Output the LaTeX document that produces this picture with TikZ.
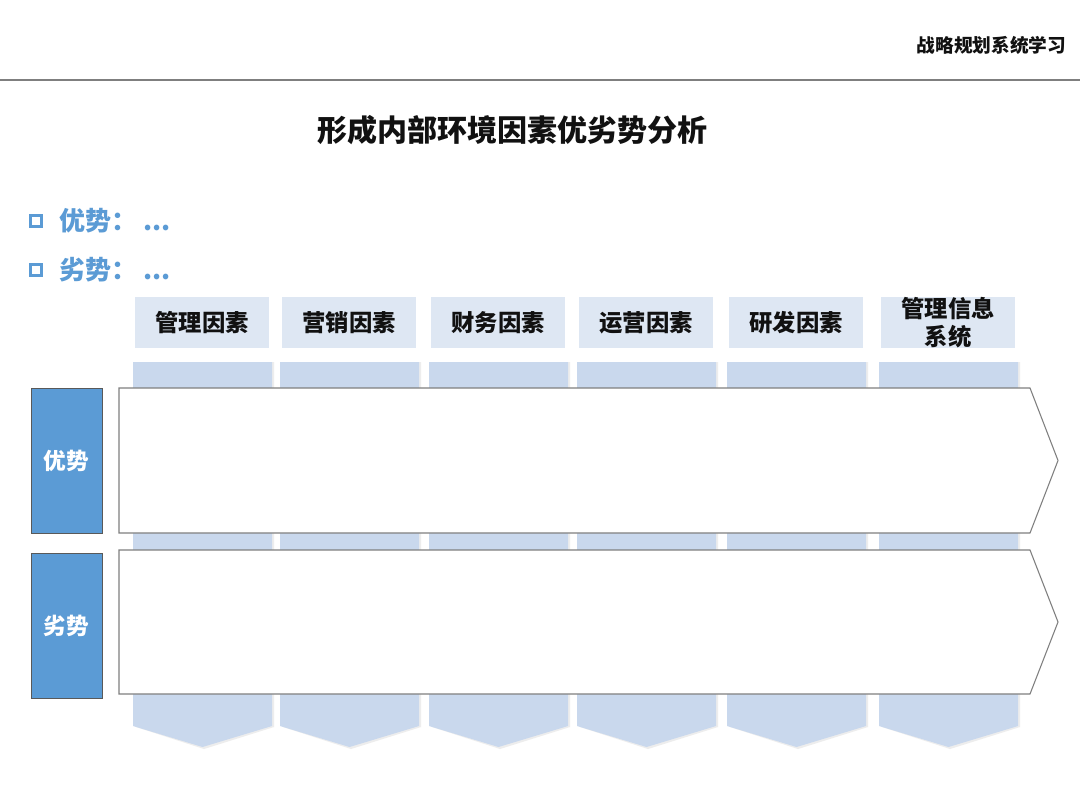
\documentclass[tikz,border=0pt]{standalone}
\usepackage{fontspec}
\setmainfont{Noto Sans CJK SC}
\usepackage{xcolor}
\usetikzlibrary{positioning}
\definecolor{SWBlue}{HTML}{5B9BD5}
\definecolor{SWHead}{HTML}{DEE7F3}
\definecolor{SWCol} {HTML}{C9D8ED}
\definecolor{SWLine}{HTML}{7F7F7F}
\definecolor{SWText}{HTML}{111111}

\begin{document}
\begin{tikzpicture}[x=0.75pt,y=-0.75pt,
    colhd/.style={fill=SWHead,minimum width=100.5pt,minimum height=38.25pt,inner sep=0pt,
      align=center,text=SWText,font=\fontsize{17.5}{21}\selectfont\bfseries},
    colbar/.style={fill=SWCol},
    colshd/.style={fill=black!7},
    rowlbl/.style={draw=SWLine!70!black,fill=SWBlue,text=white,minimum width=53.25pt,
      minimum height=108.75pt,inner sep=0pt,font=\fontsize{17}{19}\selectfont\bfseries},
    rowarr/.style={draw=SWLine,fill=white,line width=0.8pt,line join=miter},
    bulbox/.style={draw=SWBlue,line width=1.8pt,minimum size=8pt,inner sep=0pt},
    bultxt/.style={anchor=west,text=SWBlue,font=\fontsize{19.5}{22}\selectfont\bfseries}
  ]
    \useasboundingbox[fill=white] (0,0) rectangle (1080,810);
    % header
    \node[anchor=east,text=SWText,font=\fontsize{14}{16}\selectfont\bfseries](brand) at (1071,45) {战略规划系统学习};
    \draw[SWLine,line width=1.5pt](0,80)--(1080,80);
    \node[text=SWText,font=\fontsize{22.5}{26}\selectfont\bfseries](title) at (512,130) {形成内部环境因素优劣势分析};
    % bullets
    \node[bulbox](b1) at (36,221) {};
    \node[bultxt](t1) at (55,221) {优势：\hspace{4pt}...};
    \node[bulbox](b2) at (36,270) {};
    \node[bultxt](t2) at (55,270) {劣势：\hspace{4pt}...};
    % columns
    \foreach \L/\txt [count=\i] in {135/管理因素,282/营销因素,431/财务因素,579/运营因素,729/研发因素,881/{管理信息\\系统}}{
      \node[colhd](hd\i) at (\L+67,322.5) {\txt};
      \fill[colshd] (\L+1,362) -- (\L+139,362) -- (\L+139,727) -- (\L+69,749) -- (\L+1,727) -- cycle;
      \fill[colbar] (\L-2,362) -- (\L+137,362) -- (\L+137,726) -- (\L+67.5,747) -- (\L-2,726) -- cycle;
    }
    % rows
    \draw[rowarr] (119,388) -- (1030,388) -- (1058,460.5) -- (1030,533) -- (119,533) -- cycle;
    \draw[rowarr] (119,550) -- (1030,550) -- (1058,622) -- (1030,694) -- (119,694) -- cycle;
    \node[rowlbl](sw1) at (66.5,460.5) {优势};
    \node[rowlbl](sw2) at (66.5,625.5) {劣势};
  \end{tikzpicture}
\end{document}
